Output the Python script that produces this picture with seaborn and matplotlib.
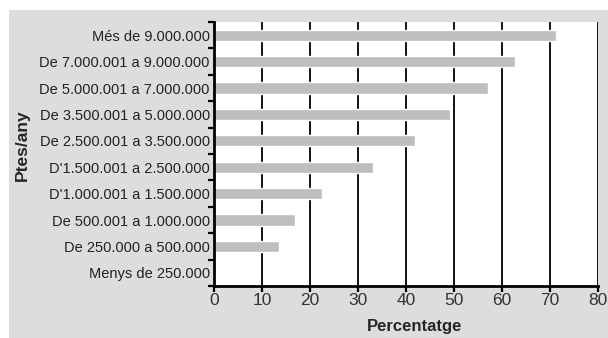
import numpy as np
import pandas as pd
import matplotlib
matplotlib.use("Agg")
import matplotlib.pyplot as plt
import seaborn as sns
from matplotlib.patches import Rectangle

# Income brackets (pessetes per year), top to bottom as in the chart
categories = [
    "Més de 9.000.000",
    "De 7.000.001 a 9.000.000",
    "De 5.000.001 a 7.000.000",
    "De 3.500.001 a 5.000.000",
    "De 2.500.001 a 3.500.000",
    "D'1.500.001 a 2.500.000",
    "D'1.000.001 a 1.500.000",
    "De 500.001 a 1.000.000",
    "De 250.000 a 500.000",
    "Menys de 250.000",
]
percentages = [71.2, 62.8, 57.0, 49.1, 41.9, 33.1, 22.6, 16.9, 13.5, 0.0]
x_ticks = [0, 10, 20, 30, 40, 50, 60, 70, 80]

BG = "#dcdddf"
BAR = "#bdbebf"

sns.set_style("white")
plt.rcParams["font.family"] = ["Liberation Sans", "DejaVu Sans"]

df = pd.DataFrame({"bracket": categories, "pct": percentages})

fig = plt.figure(figsize=(6.08, 3.38), dpi=100)
fig.patch.set_facecolor("white")
# grey panel behind the chart
fig.add_artist(Rectangle((9 / 608, 0), 1, (338 - 10) / 338,
                         transform=fig.transFigure, facecolor=BG,
                         edgecolor="none", zorder=-10))

ax = fig.add_axes([214 / 608, 52 / 338, 384 / 608, 264 / 338])
ax.set_facecolor("white")

sns.barplot(data=df, y="bracket", x="pct", orient="h", color=BAR,
            width=0.42, saturation=1, ax=ax, zorder=3)

ax.set_xlim(0, 80)
ax.set_ylim(len(categories) - 0.5, -0.5)
ax.set_xticks(x_ticks)
ax.set_xticklabels([str(t) for t in x_ticks], fontsize=12.5, color="#333333")
for t in x_ticks[1:]:
    ax.axvline(t, color="black", linewidth=1.3, zorder=2)

# ticks between categories on the y axis
ax.set_yticks(np.arange(len(categories) + 1) - 0.5, minor=True)
ax.tick_params(axis="y", which="major", length=0, labelsize=10.5,
               labelcolor="#222222", pad=3)
ax.tick_params(axis="y", which="minor", length=4, width=1.6, color="black",
               direction="out", left=True)
ax.tick_params(axis="x", length=4, width=1.6, color="black", direction="out",
               bottom=True, pad=1)

for side in ["top", "right"]:
    ax.spines[side].set_visible(False)
for side in ["left", "bottom"]:
    ax.spines[side].set_color("black")
    ax.spines[side].set_linewidth(2)
    ax.spines[side].set_zorder(4)

ax.set_xlabel("Percentatge", fontsize=12, fontweight="bold", labelpad=9)
ax.xaxis.set_label_coords(0.523, -0.125)
ax.set_ylabel("")
fig.text(22 / 608, (338 - 145) / 338, "Ptes/any", rotation=90, fontsize=12.5,
         fontweight="bold", ha="center", va="center")

fig.savefig("out.png", dpi=100)
